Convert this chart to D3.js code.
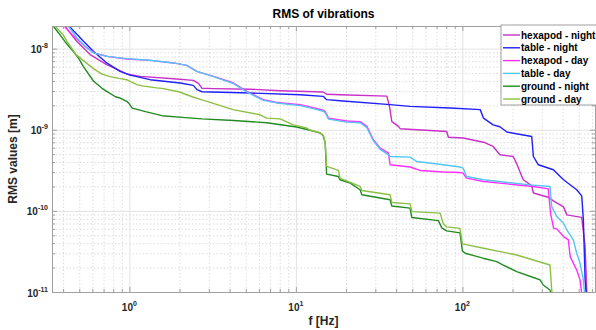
<!DOCTYPE html>
<html>
<head>
<meta charset="utf-8">
<script src="https://cdn.jsdelivr.net/npm/d3@7/dist/d3.min.js"></script>
<style>
  body { margin: 0; background: #fff; }
  svg { font-family: "Liberation Sans", Arial, Helvetica, sans-serif; }
</style>
</head>
<body>
<svg id="chart" width="596" height="330"></svg>
<script>
// cumulative RMS [m] vs frequency [Hz]
const hexNightF = [0.384, 0.411, 0.483, 0.581, 0.731, 0.964, 1.16, 1.84, 2.42, 2.61, 2.73, 3.20, 5.31, 8.04, 14.6, 15.3, 18.4, 35.2, 36.5, 37.7, 41.3, 42.3, 80.5, 82.4, 101, 134, 153, 168, 202, 212, 232, 261, 267, 328, 352, 405, 424, 521, 546, 561];
const hexNightV = [2.28e-8, 1.88e-8, 1.23e-8, 8.44e-9, 6.34e-9, 4.87e-9, 4.55e-9, 4.26e-9, 4.06e-9, 3.70e-9, 3.24e-9, 3.21e-9, 3.16e-9, 3.03e-9, 2.92e-9, 2.74e-9, 2.70e-9, 2.60e-9, 1.94e-9, 1.26e-9, 1.10e-9, 1.03e-9, 9.52e-10, 8.08e-10, 7.91e-10, 7.02e-10, 6.22e-10, 4.91e-10, 4.68e-10, 3.80e-10, 2.42e-10, 2.04e-10, 1.66e-10, 1.47e-10, 1.33e-10, 1.12e-10, 8.93e-11, 8.32e-11, 3.62e-11, 8e-12];

const tableNightF = [0.373, 0.436, 0.530, 0.608, 0.731, 0.879, 1.01, 1.33, 2.02, 2.42, 2.55, 2.73, 5.31, 10.6, 14.6, 15.3, 18.4, 36.8, 48.5, 84.3, 128, 134, 153, 168, 185, 261, 265, 267, 286, 352, 405, 486, 521, 533, 546, 558];
const tableNightV = [2.63e-8, 1.88e-8, 1.23e-8, 9.27e-9, 6.66e-9, 5.24e-9, 4.71e-9, 4.14e-9, 3.77e-9, 3.52e-9, 3.12e-9, 2.94e-9, 2.84e-9, 2.70e-9, 2.58e-9, 2.35e-9, 2.28e-9, 2.04e-9, 1.94e-9, 1.85e-9, 1.77e-9, 1.39e-9, 1.15e-9, 1.09e-9, 9.37e-10, 8.27e-10, 5.66e-10, 4.68e-10, 3.70e-10, 3.21e-10, 2.42e-10, 1.82e-10, 1.53e-10, 7.75e-11, 1.41e-11, 8e-12];

const hexDayF = [0.358, 0.403, 0.453, 0.544, 0.625, 0.752, 0.964, 1.33, 1.84, 2.21, 2.54, 3.20, 4.22, 5.07, 6.38, 7.67, 10.6, 12.7, 14.6, 15.0, 15.7, 20.2, 24.3, 26.7, 29.2, 32.1, 36.0, 36.8, 48.5, 55.7, 76.9, 96.8, 101, 106, 134, 267, 328, 339, 353, 369, 405, 433, 444, 486, 509, 527];
const hexDayV = [2.48e-8, 1.92e-8, 1.48e-8, 1.06e-8, 8.75e-9, 7.96e-9, 7.46e-9, 7.17e-9, 6.66e-9, 6.22e-9, 5.24e-9, 4.55e-9, 3.77e-9, 2.97e-9, 2.35e-9, 2.17e-9, 2.04e-9, 1.87e-9, 1.74e-9, 1.67e-9, 1.39e-9, 1.28e-9, 1.26e-9, 1.10e-9, 7.53e-10, 5.94e-10, 5.15e-10, 3.70e-10, 3.47e-10, 3.15e-10, 3.01e-10, 2.97e-10, 2.92e-10, 2.53e-10, 2.30e-10, 2.00e-10, 1.87e-10, 9.18e-11, 6.11e-11, 6.00e-11, 4.82e-11, 4.39e-11, 2.73e-11, 1.87e-11, 1.41e-11, 8e-12];

const tableDayF = [0.389, 0.430, 0.483, 0.555, 0.608, 0.731, 0.964, 1.33, 1.84, 2.21, 2.54, 3.20, 4.22, 5.07, 6.38, 7.67, 10.6, 12.7, 14.6, 15.0, 15.7, 20.2, 24.3, 26.7, 29.2, 32.1, 36.0, 36.8, 48.5, 53.2, 76.9, 96.8, 101, 106, 134, 255, 336, 344, 369, 405, 424, 464, 486, 509, 533, 546];
const tableDayV = [2.48e-8, 1.88e-8, 1.36e-8, 1.02e-8, 8.85e-9, 8.03e-9, 7.53e-9, 7.20e-9, 6.66e-9, 6.22e-9, 5.24e-9, 4.51e-9, 3.70e-9, 2.92e-9, 2.30e-9, 2.14e-9, 1.98e-9, 1.82e-9, 1.69e-9, 1.62e-9, 1.35e-9, 1.24e-9, 1.22e-9, 1.06e-9, 7.31e-10, 5.74e-10, 4.91e-10, 4.68e-10, 4.60e-10, 4.06e-10, 3.70e-10, 3.47e-10, 3.37e-10, 2.65e-10, 2.42e-10, 2.09e-10, 2.00e-10, 1.13e-10, 8.51e-11, 7.05e-11, 5.82e-11, 4.39e-11, 3.00e-11, 2.26e-11, 1.41e-11, 8e-12];

const groundNightF = [0.343, 0.384, 0.413, 0.461, 0.497, 0.530, 0.608, 0.685, 0.731, 0.824, 0.879, 0.969, 0.996, 1.04, 1.25, 1.57, 2.17, 2.73, 4.22, 6.68, 10.1, 12.2, 14.0, 14.6, 15.0, 15.3, 18.0, 18.4, 21.2, 24.3, 24.9, 36.8, 37.7, 48.5, 49.7, 71.8, 75.2, 80.5, 96.8, 100, 104, 133, 161, 176, 212, 267, 293, 306, 336, 346];
const groundNightV = [1.98e-8, 1.47e-8, 1.20e-8, 9.18e-9, 7.53e-9, 6.00e-9, 3.99e-9, 3.24e-9, 2.97e-9, 2.55e-9, 2.46e-9, 2.22e-9, 2.10e-9, 1.85e-9, 1.67e-9, 1.49e-9, 1.41e-9, 1.36e-9, 1.30e-9, 1.22e-9, 1.08e-9, 9.86e-10, 9.10e-10, 8.43e-10, 6.86e-10, 2.84e-10, 2.65e-10, 2.42e-10, 2.20e-10, 1.82e-10, 1.58e-10, 1.37e-10, 1.15e-10, 1.08e-10, 8.27e-11, 7.59e-11, 6.17e-11, 5.66e-11, 5.35e-11, 3.21e-11, 3.00e-11, 2.61e-11, 2.37e-11, 2.15e-11, 1.78e-11, 1.51e-11, 1.41e-11, 1.22e-11, 1.06e-11, 8e-12];

const groundDayF = [0.351, 0.401, 0.423, 0.479, 0.530, 0.608, 0.685, 0.766, 0.864, 0.964, 0.996, 1.11, 1.19, 1.46, 1.57, 1.98, 2.38, 2.73, 2.92, 4.20, 6.10, 6.68, 8.04, 9.66, 11.6, 12.2, 14.0, 14.6, 15.0, 15.3, 18.0, 18.4, 24.3, 24.9, 36.8, 37.7, 48.5, 49.7, 73.5, 76.9, 80.5, 96.8, 100, 134, 212, 267, 336, 344, 351];
const groundDayV = [1.98e-8, 1.47e-8, 1.22e-8, 8.44e-9, 7.11e-9, 5.66e-9, 4.84e-9, 4.51e-9, 4.30e-9, 4.14e-9, 3.99e-9, 3.60e-9, 3.47e-9, 3.28e-9, 3.24e-9, 2.94e-9, 2.55e-9, 2.33e-9, 2.24e-9, 1.77e-9, 1.53e-9, 1.39e-9, 1.36e-9, 1.15e-9, 1.05e-9, 9.86e-10, 9.19e-10, 8.55e-10, 6.86e-10, 3.53e-10, 3.15e-10, 2.53e-10, 2.00e-10, 1.78e-10, 1.58e-10, 1.27e-10, 1.22e-10, 9.80e-11, 9.37e-11, 6.92e-11, 6.34e-11, 6.08e-11, 3.92e-11, 3.46e-11, 2.86e-11, 2.48e-11, 2.15e-11, 1.06e-11, 8e-12];

const seriesNames = ['hexapod - night', 'table - night', 'hexapod - day', 'table - day', 'ground - night', 'ground - day'];

// decade exponents used for the labelled ticks
const xTickExp = [0, 1, 2];
const yTickExp = [-8, -9, -10, -11];

// colours for each series, same order as seriesNames
const colors = ['#c92fc9', '#1f1fff', '#ff2eff', '#52c6f2', '#228b22', '#8dbf45'];

const series = [
  [hexNightF, hexNightV], [tableNightF, tableNightV],
  [hexDayF, hexDayV], [tableDayF, tableDayV],
  [groundNightF, groundNightV], [groundDayF, groundDayV]
].map(([f, v], i) => ({ name: seriesNames[i], color: colors[i], points: f.map((d, j) => [d, v[j]]) }));

// chart margins within the svg element
const margins = { top: 26, right: 1, bottom: 38, left: 52 };
const width = 596 - margins.left - margins.right;
const height = 330 - margins.top - margins.bottom;

const svg = d3.select('#chart');
const g = svg.append('g').attr('transform', `translate(${margins.left}, ${margins.top})`);

const x = d3.scaleLog().domain([0.343, 626]).range([0, width]);
const y = d3.scaleLog().domain([1e-11, 1.9e-8]).range([height, 0]);

// minor tick values: 2..9 times every decade inside the domain
const minorTicks = (scale, lo, hi) => {
  const out = [];
  for (let e = lo; e <= hi; e++) {
    for (let k = 2; k <= 9; k++) {
      const v = k * Math.pow(10, e);
      const [a, b] = scale.domain();
      if (v > a && v < b) out.push(v);
    }
  }
  return out;
};
const xMajor = xTickExp.map(e => Math.pow(10, e));
const yMajor = yTickExp.map(e => Math.pow(10, e));
const xMinor = minorTicks(x, -1, 2);
const yMinor = minorTicks(y, -11, -8);

// grid lines, minor dotted then major solid
g.append('g').attr('class', 'grid')
  .attr('transform', `translate(0, ${height})`)
  .call(d3.axisBottom(x).tickValues(xMinor).tickSize(-height).tickFormat(''))
  .call(s => s.selectAll('line').attr('stroke', '#dcdcdc').attr('stroke-dasharray', '1.5,2'));
g.append('g').attr('class', 'grid')
  .call(d3.axisLeft(y).tickValues(yMinor).tickSize(-width).tickFormat(''))
  .call(s => s.selectAll('line').attr('stroke', '#dcdcdc').attr('stroke-dasharray', '1.5,2'));
g.append('g').attr('class', 'grid')
  .attr('transform', `translate(0, ${height})`)
  .call(d3.axisBottom(x).tickValues(xMajor).tickSize(-height).tickFormat(''))
  .call(s => s.selectAll('line').attr('stroke', '#e3e3e3'));
g.append('g').attr('class', 'grid')
  .call(d3.axisLeft(y).tickValues(yMajor).tickSize(-width).tickFormat(''))
  .call(s => s.selectAll('line').attr('stroke', '#e3e3e3'));
g.selectAll('.grid .domain').remove();

// the data lines
g.append('clipPath').attr('id', 'clip')
  .append('rect').attr('width', width).attr('height', height);

const line = d3.line().x(d => x(d[0])).y(d => y(d[1]));

g.append('g').attr('clip-path', 'url(#clip)')
  .selectAll('path')
  .data(series)
  .enter().append('path')
    .attr('d', d => line(d.points))
    .attr('fill', 'none')
    .attr('stroke', d => d.color)
    .attr('stroke-width', 1.4)
    .attr('stroke-linejoin', 'round');

// axes: ticks pointing inwards on all four sides
const axisColor = '#a0a0a0';
const axes = [
  [d3.axisBottom, x, `translate(0, ${height})`, xMajor, xMinor],
  [d3.axisTop, x, 'translate(0, 0)', xMajor, xMinor],
  [d3.axisLeft, y, 'translate(0, 0)', yMajor, yMinor],
  [d3.axisRight, y, `translate(${width}, 0)`, yMajor, yMinor]
];
axes.forEach(([axisFn, scale, tr, major, minor]) => {
  g.append('g').attr('transform', tr)
    .call(axisFn(scale).tickValues(minor).tickSizeInner(-3).tickSizeOuter(0).tickFormat(''))
    .call(s => s.selectAll('line').attr('stroke', axisColor))
    .call(s => s.select('.domain').attr('stroke', axisColor));
  g.append('g').attr('transform', tr)
    .call(axisFn(scale).tickValues(major).tickSizeInner(-5).tickSizeOuter(0).tickFormat(''))
    .call(s => s.selectAll('line').attr('stroke', axisColor))
    .call(s => s.select('.domain').remove());
});

// tick labels as powers of ten
const xLabels = g.append('g').selectAll('text')
  .data(xTickExp)
  .enter().append('text')
    .attr('x', d => x(Math.pow(10, d)))
    .attr('y', height + 19)
    .attr('text-anchor', 'middle')
    .attr('font-size', 10).attr('font-weight', 'bold').attr('fill', '#262626');
xLabels.append('tspan').text('10');
xLabels.append('tspan').attr('dy', -5).attr('font-size', 7).text(d => d);

const yLabels = g.append('g').selectAll('text')
  .data(yTickExp)
  .enter().append('text')
    .attr('x', -4)
    .attr('y', d => y(Math.pow(10, d)) + 4.5)
    .attr('text-anchor', 'end')
    .attr('font-size', 10).attr('font-weight', 'bold').attr('fill', '#262626');
yLabels.append('tspan').text('10');
yLabels.append('tspan').attr('dy', -5).attr('font-size', 7).text(d => d);

// title and axis labels
svg.append('text')
  .attr('x', margins.left + width / 2).attr('y', 18)
  .attr('text-anchor', 'middle')
  .attr('font-size', 12).attr('font-weight', 'bold')
  .text('RMS of vibrations');

svg.append('text')
  .attr('x', margins.left + width / 2).attr('y', 325)
  .attr('text-anchor', 'middle')
  .attr('font-size', 12).attr('font-weight', 'bold').attr('fill', '#262626')
  .text('f [Hz]');

svg.append('text')
  .attr('transform', `translate(17, ${margins.top + height / 2}) rotate(-90)`)
  .attr('text-anchor', 'middle')
  .attr('font-size', 12).attr('font-weight', 'bold').attr('fill', '#262626')
  .text('RMS values [m]');

// legend box in the upper right corner
const legend = svg.append('g').attr('transform', 'translate(501, 25)');
legend.append('rect')
  .attr('width', 100).attr('height', 80)
  .attr('fill', '#fff').attr('stroke', '#a0a0a0');

const rows = legend.selectAll('.row')
  .data(series)
  .enter().append('g')
    .attr('class', 'row')
    .attr('transform', (d, i) => `translate(0, ${10 + i * 12.8})`);
rows.append('line')
  .attr('x1', 2).attr('x2', 19)
  .attr('stroke', d => d.color).attr('stroke-width', 1.4);
rows.append('text')
  .attr('x', 20).attr('y', 3.6)
  .attr('font-size', 10).attr('font-weight', 'bold')
  .text(d => d.name);
</script>
</body>
</html>
